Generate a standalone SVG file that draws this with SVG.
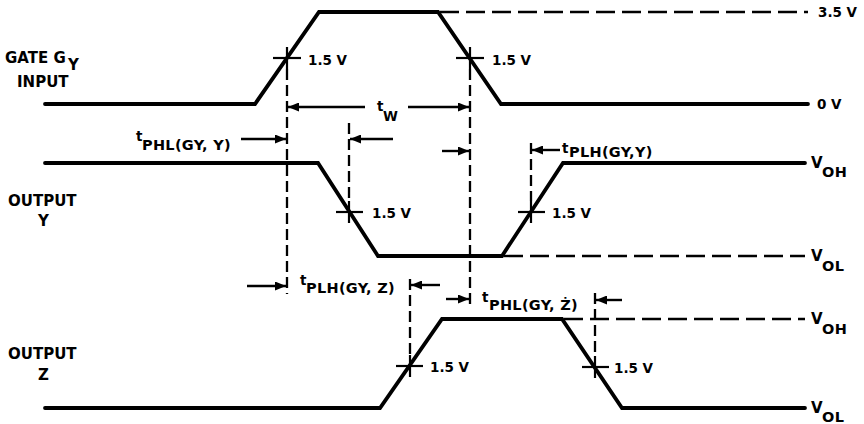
<svg xmlns="http://www.w3.org/2000/svg" width="864" height="424" viewBox="0 0 864 424">
<style>
.wave{fill:none;stroke:#000;stroke-width:3.8;stroke-linejoin:miter;stroke-linecap:round}
.hd{fill:none;stroke:#000;stroke-width:2.4;stroke-dasharray:19 7}
.vd{fill:none;stroke:#000;stroke-width:2.3;stroke-dasharray:11 5}
.tick{fill:none;stroke:#000;stroke-width:2.2}
.arr{fill:none;stroke:#000;stroke-width:2.4;marker-end:url(#ah)}
text{font-family:"DejaVu Sans","Liberation Sans",sans-serif;font-weight:bold;fill:#000}
.lb{font-size:15px}
.v{font-size:13.5px}
.sb{font-size:14.5px;letter-spacing:0.3px}
.tt{font-size:13.5px}
</style>
<defs>
<marker id="ah" markerUnits="userSpaceOnUse" markerWidth="12" markerHeight="9" refX="11" refY="4.5" orient="auto">
<path d="M0,0 L11,4.5 L0,9 z" fill="#000"/>
</marker>
</defs>

<g id="labels">
<text class="lb" x="5" y="63">GATE G<tspan x="68" y="70">Y</tspan></text>
<text class="lb" x="17" y="87">INPUT</text>
<text class="lb" x="8" y="206">OUTPUT</text>
<text class="lb" x="38" y="226">Y</text>
<text class="lb" x="8" y="359">OUTPUT</text>
<text class="lb" x="38" y="380">Z</text>
<text class="v" x="818" y="17">3.5 V</text>
<text class="v" x="817" y="109">0 V</text>
<text class="lb" x="811" y="168">V<tspan class="sb" x="822" y="177">OH</tspan></text>
<text class="lb" x="811" y="261">V<tspan class="sb" x="822" y="271">OL</tspan></text>
<text class="lb" x="811" y="324">V<tspan class="sb" x="822" y="334">OH</tspan></text>
<text class="lb" x="811" y="413">V<tspan class="sb" x="822" y="422">OL</tspan></text>
</g>

<g id="gate-input">
<polyline class="wave" points="45,104 255,104 319,12 438,12 501,104 808,104"/>
<line class="hd" x1="440" y1="12" x2="808" y2="12"/>
</g>

<g id="output-y">
<polyline class="wave" points="45,163 318,163 378,256 502,256 563,163 805,163"/>
<line class="hd" x1="504" y1="256" x2="805" y2="256"/>
</g>

<g id="output-z">
<polyline class="wave" points="45,408 380,408 442,319 562,319 622,408 805,408"/>
<line class="hd" x1="564" y1="319" x2="805" y2="319"/>
</g>

<g id="crossings">
<line class="tick" x1="273" y1="58" x2="301" y2="58"/><line class="tick" x1="287" y1="47" x2="287" y2="69"/>
<text class="v" x="308" y="65">1.5 V</text>
<line class="tick" x1="456" y1="58" x2="484" y2="58"/><line class="tick" x1="470" y1="47" x2="470" y2="69"/>
<text class="v" x="492" y="65">1.5 V</text>
<line class="tick" x1="336" y1="212" x2="363" y2="212"/><line class="tick" x1="349" y1="201" x2="349" y2="223"/>
<text class="v" x="372" y="218">1.5 V</text>
<line class="tick" x1="518" y1="212" x2="545" y2="212"/><line class="tick" x1="531" y1="201" x2="531" y2="223"/>
<text class="v" x="552" y="218">1.5 V</text>
<line class="tick" x1="396" y1="366" x2="423" y2="366"/><line class="tick" x1="410" y1="355" x2="410" y2="377"/>
<text class="v" x="430" y="372">1.5 V</text>
<line class="tick" x1="582" y1="367" x2="609" y2="367"/><line class="tick" x1="595" y1="356" x2="595" y2="378"/>
<text class="v" x="614" y="373">1.5 V</text>
</g>

<g id="connectors">
<line class="vd" x1="287" y1="69" x2="287" y2="294"/>
<line class="vd" x1="470" y1="69" x2="470" y2="305"/>
<line class="vd" x1="349" y1="123" x2="349" y2="201"/>
<line class="vd" x1="531" y1="143" x2="531" y2="201"/>
<line class="vd" x1="410" y1="279" x2="410" y2="355"/>
<line class="vd" x1="595" y1="293" x2="595" y2="356"/>
<line class="arr" x1="365" y1="107" x2="288" y2="107"/>
<line class="arr" x1="408" y1="107" x2="469" y2="107"/>
<line class="arr" x1="241" y1="139" x2="286" y2="139"/>
<line class="arr" x1="393" y1="139" x2="350" y2="139"/>
<line class="arr" x1="442" y1="151" x2="469" y2="151"/>
<line class="arr" x1="560" y1="150" x2="532" y2="150"/>
<line class="arr" x1="247" y1="286" x2="286" y2="286"/>
<line class="arr" x1="440" y1="285" x2="411" y2="285"/>
<line class="arr" x1="446" y1="299" x2="469" y2="299"/>
<line class="arr" x1="622" y1="300" x2="596" y2="300"/>
</g>

<g id="timing-labels">
<text class="tt" x="377" y="111">t<tspan x="383" y="121">W</tspan></text>
<text class="tt" x="136" y="141">t<tspan class="sb" x="142" y="150">PHL(GY, Y)</tspan></text>
<text class="tt" x="562" y="153">t<tspan class="sb" x="569" y="157">PLH(GY,Y)</tspan></text>
<text class="tt" x="300" y="285">t<tspan class="sb" x="306" y="293">PLH(GY, Z)</tspan></text>
<text class="tt" x="482" y="302">t<tspan class="sb" x="489" y="310">PHL(GY, Ż)</tspan></text>
</g>
</svg>
